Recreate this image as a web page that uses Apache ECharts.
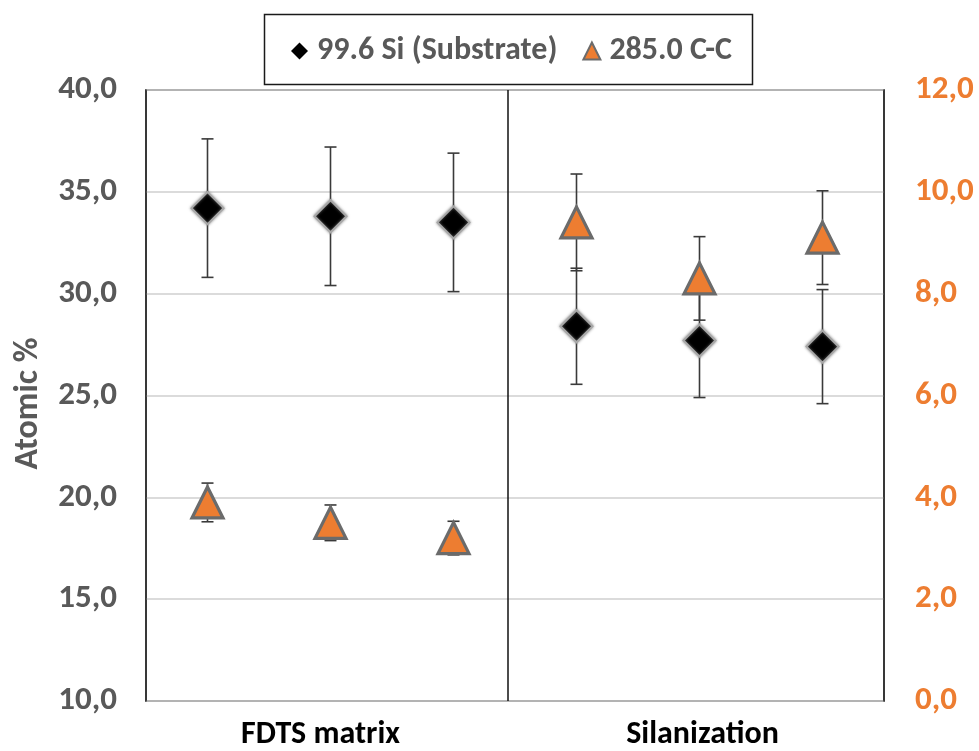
<!DOCTYPE html>
<html>
<head>
<meta charset="utf-8">
<script src="https://cdn.jsdelivr.net/npm/echarts@6/dist/echarts.min.js"></script>
<style>
  html, body { margin: 0; padding: 0; background: #fff; }
  #chart { width: 979px; height: 751px; }
</style>
</head>
<body>
<div id="chart"></div>
<script>
// Sample groups and the six measured spots (three per group)
const groups = ['FDTS matrix', 'Silanization'];
const spots = ['FDTS-1', 'FDTS-2', 'FDTS-3', 'Sil-1', 'Sil-2', 'Sil-3'];

// 99.6 eV Si (substrate) peak, atomic % (left axis)
const siName = '99.6 Si (Substrate)';
const siValues = [34.2, 33.8, 33.5, 28.4, 27.7, 27.4];
const siErrors = [3.4, 3.4, 3.4, 2.85, 2.8, 2.8];

// 285.0 eV C-C peak, atomic % (right axis)
const ccName = '285.0 C-C';
const ccValues = [3.9, 3.5, 3.2, 9.4, 8.3, 9.1];
const ccErrors = [0.38, 0.35, 0.33, 0.95, 0.82, 0.92];

// Tick ranges
const leftTicks = { min: 10, max: 40, step: 5 };
const rightTicks = { min: 0, max: 12, step: 2 };

const FONT = "Carlito, 'Liberation Sans Narrow', 'Open Sans', sans-serif";
const GRAY = '#595959';
const ORANGE = '#ED7D31';

const comma = v => v.toFixed(1).replace('.', ',');

function errorBars(values, errors) {
  return values.map((v, i) => [i, v, errors[i]]);
}

function renderErrorBar(params, api) {
  const x = api.value(0), y = api.value(1), e = api.value(2);
  const hi = api.coord([x, y + e]);
  const lo = api.coord([x, y - e]);
  const cap = 6;
  const style = { stroke: '#3a3a3a', lineWidth: 1.6, fill: null };
  return {
    type: 'group',
    children: [
      { type: 'line', shape: { x1: hi[0], y1: hi[1], x2: lo[0], y2: lo[1] }, style },
      { type: 'line', shape: { x1: hi[0] - cap, y1: hi[1], x2: hi[0] + cap, y2: hi[1] }, style },
      { type: 'line', shape: { x1: lo[0] - cap, y1: lo[1], x2: lo[0] + cap, y2: lo[1] }, style }
    ]
  };
}

// Position of the separator between the two groups, as a fraction of the plot width
const separatorAt = 0.489;

const chart = echarts.init(document.getElementById('chart'));
chart.setOption({
  animation: false,
  backgroundColor: '#fff',
  textStyle: { fontFamily: FONT },
  grid: {
    left: 146, right: 95, top: 90, bottom: 49,
    show: true, borderColor: '#2b2b2b', borderWidth: 1.5, backgroundColor: 'transparent'
  },
  graphic: [{
    type: 'rect',
    left: 262, top: 12,
    shape: { width: 488, height: 70 },
    style: { fill: null, stroke: '#1a1a1a', lineWidth: 1.5 },
    z: 10
  }],
  legend: {
    top: 30, left: 286,
    itemWidth: 17, itemHeight: 17, itemGap: 25,
    textStyle: { fontFamily: FONT, fontSize: 32, fontWeight: 'bold', color: GRAY, padding: [0, 0, 0, 4] },
    data: [
      { name: siName, icon: 'diamond', itemStyle: { color: '#000', borderWidth: 0, opacity: 1 } },
      { name: ccName, icon: 'triangle', itemStyle: { color: ORANGE, borderColor: '#6b6b6b', borderWidth: 2, opacity: 1 } }
    ]
  },
  xAxis: [
    {
      type: 'category', data: spots, boundaryGap: true,
      axisLine: { show: false }, axisTick: { show: false }, axisLabel: { show: false },
      splitLine: { show: false }
    },
    {
      type: 'category', data: groups, boundaryGap: true, position: 'bottom',
      axisLine: { show: false }, axisTick: { show: false }, splitLine: { show: false },
      axisLabel: {
        margin: 18, color: '#000', fontFamily: FONT, fontSize: 32, fontWeight: 'bold',
        formatter: v => v === groups[0] ? '{a|' + v + '}' : '{b|' + v + '}',
        rich: {
          a: { fontFamily: FONT, fontSize: 32, fontWeight: 'bold', color: '#000', padding: [0, 20, 0, 0] },
          b: { fontFamily: FONT, fontSize: 32, fontWeight: 'bold', color: '#000', padding: [0, 0, 0, 6] }
        }
      }
    },
    {
      type: 'value', min: 0, max: 1, show: false
    }
  ],
  yAxis: [
    {
      type: 'value', min: leftTicks.min, max: leftTicks.max, interval: leftTicks.step,
      name: 'Atomic %', nameLocation: 'middle', nameGap: 101, nameRotate: 90,
      nameTextStyle: { fontFamily: FONT, fontSize: 34, fontWeight: 'bold', color: GRAY, padding: [0, 16, 0, 0] },
      axisLine: { show: true, lineStyle: { color: '#2b2b2b', width: 1.5 } },
      axisTick: { show: false },
      axisLabel: { margin: 29, color: GRAY, fontFamily: FONT, fontSize: 33, fontWeight: 'bold', formatter: comma },
      splitLine: { show: true, lineStyle: { color: '#cfcfcf', width: 1.5 } }
    },
    {
      type: 'value', min: rightTicks.min, max: rightTicks.max, interval: rightTicks.step,
      position: 'right',
      axisLine: { show: true, lineStyle: { color: '#2b2b2b', width: 1.5 } },
      axisTick: { show: false },
      axisLabel: { margin: 31, color: ORANGE, fontFamily: FONT, fontSize: 33, fontWeight: 'bold', formatter: comma },
      splitLine: { show: false }
    }
  ],
  series: [
    {
      name: 'separator', type: 'scatter', xAxisIndex: 2, yAxisIndex: 0, data: [],
      silent: true,
      markLine: {
        silent: true, symbol: 'none', label: { show: false },
        lineStyle: { color: '#111', width: 1.5, type: 'solid' },
        data: [{ xAxis: separatorAt }]
      },
      z: 1
    },
    {
      name: siName + ' error', type: 'custom', xAxisIndex: 0, yAxisIndex: 0,
      renderItem: renderErrorBar, data: errorBars(siValues, siErrors), z: 2, silent: true
    },
    {
      name: ccName + ' error', type: 'custom', xAxisIndex: 0, yAxisIndex: 1,
      renderItem: renderErrorBar, data: errorBars(ccValues, ccErrors), z: 2, silent: true
    },
    {
      name: siName, type: 'scatter', xAxisIndex: 0, yAxisIndex: 0,
      data: siValues,
      symbol: 'diamond', symbolSize: 32,
      itemStyle: {
        color: '#000', borderColor: '#a8a8a8', borderWidth: 2, opacity: 1,
        shadowColor: 'rgba(120,120,120,0.8)', shadowBlur: 3
      },
      z: 5
    },
    {
      name: ccName, type: 'scatter', xAxisIndex: 0, yAxisIndex: 1,
      data: ccValues,
      symbol: 'triangle', symbolSize: [31, 31],
      itemStyle: { color: ORANGE, borderColor: '#6b6b6b', borderWidth: 3.2, opacity: 1 },
      z: 5
    }
  ]
});
</script>
</body>
</html>
